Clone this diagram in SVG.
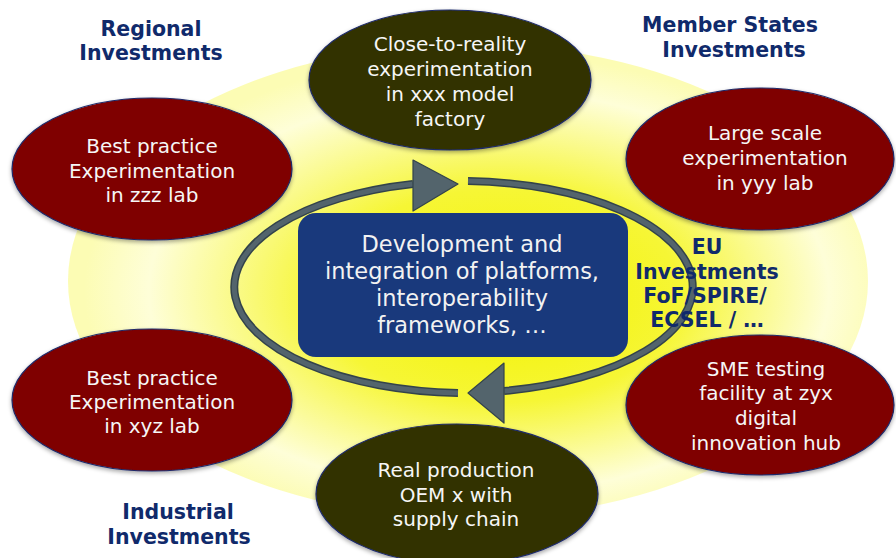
<svg xmlns="http://www.w3.org/2000/svg" width="896" height="558" viewBox="0 0 896 558">
  <defs>
    <radialGradient id="glow" cx="0.52" cy="0.52" r="0.5" fx="0.56" fy="0.54">
      <stop offset="0" stop-color="#f3f300"/>
      <stop offset="0.45" stop-color="#f6f635"/>
      <stop offset="0.65" stop-color="#fafa88"/>
      <stop offset="0.85" stop-color="#fefed8"/>
      <stop offset="1" stop-color="#fcfcb4"/>
    </radialGradient>
    <filter id="shadow" x="-10%" y="-10%" width="120%" height="130%">
      <feDropShadow dx="0" dy="2" stdDeviation="2" flood-color="#000" flood-opacity="0.35"/>
    </filter>
  </defs>
  <style>
    .red { fill: #7f0000; stroke: #1e2a6a; stroke-width: 1.2; filter: url(#shadow); }
    .olive { fill: #333300; stroke: #1e2a6a; stroke-width: 1.2; filter: url(#shadow); }
    .node-text { font-family: "DejaVu Sans", Verdana, sans-serif; font-size: 20px; fill: #f6f6f6; text-anchor: middle; }
    .box-text { font-family: "DejaVu Sans", Verdana, sans-serif; font-size: 22.5px; fill: #f2f2f2; text-anchor: middle; }
    .label { font-family: "DejaVu Sans", Verdana, sans-serif; font-weight: bold; font-size: 20.5px; fill: #102a6b; text-anchor: middle; }
    .loop-outer { fill: none; stroke: #33434b; stroke-width: 8; }
    .loop-inner { fill: none; stroke: #53646c; stroke-width: 5; }
    .head { fill: #53646c; stroke: #33434b; stroke-width: 1.2; stroke-linejoin: round; }
  </style>

  <!-- background glow -->
  <ellipse cx="468" cy="281" rx="400" ry="237" fill="url(#glow)"/>

  <!-- circular loop connectors -->
  <g id="connectors">
    <path class="loop-outer" d="M 458 393 A 233 106 0 0 1 413 184"/>
    <path class="loop-inner" d="M 458 393 A 233 106 0 0 1 413 184"/>
    <polygon class="head" points="413,160 458,184 413,211"/>
    <path class="loop-outer" d="M 468 181 A 233 106 0 0 1 504 391"/>
    <path class="loop-inner" d="M 468 181 A 233 106 0 0 1 504 391"/>
    <polygon class="head" points="504,363 468,393 504,423"/>
  </g>

  <!-- central platform box -->
  <g id="platforms">
    <rect x="298" y="213" width="330" height="144" rx="18" fill="#19397c"/>
    <text class="box-text" x="462" y="252">Development and</text>
    <text class="box-text" x="462" y="279">integration of platforms,</text>
    <text class="box-text" x="462" y="306">interoperability</text>
    <text class="box-text" x="462" y="333">frameworks, …</text>
  </g>

  <g id="model-factory">
    <ellipse class="olive" cx="450" cy="80" rx="141" ry="70"/>
    <text class="node-text" x="450" y="51">Close-to-reality</text>
    <text class="node-text" x="450" y="76">experimentation</text>
    <text class="node-text" x="450" y="101">in xxx model</text>
    <text class="node-text" x="450" y="126">factory</text>
  </g>

  <g id="zzz-lab">
    <ellipse class="red" cx="152" cy="169" rx="140" ry="71"/>
    <text class="node-text" x="152" y="153">Best practice</text>
    <text class="node-text" x="152" y="178">Experimentation</text>
    <text class="node-text" x="152" y="202">in zzz lab</text>
  </g>

  <g id="yyy-lab">
    <ellipse class="red" cx="760" cy="159" rx="134" ry="71"/>
    <text class="node-text" x="765" y="140">Large scale</text>
    <text class="node-text" x="765" y="165">experimentation</text>
    <text class="node-text" x="765" y="190">in yyy lab</text>
  </g>

  <g id="xyz-lab">
    <ellipse class="red" cx="152" cy="400" rx="140" ry="71"/>
    <text class="node-text" x="152" y="385">Best practice</text>
    <text class="node-text" x="152" y="409">Experimentation</text>
    <text class="node-text" x="152" y="433">in xyz lab</text>
  </g>

  <g id="sme-hub">
    <ellipse class="red" cx="760" cy="405" rx="134" ry="70"/>
    <text class="node-text" x="766" y="376">SME testing</text>
    <text class="node-text" x="766" y="400">facility at zyx</text>
    <text class="node-text" x="766" y="425">digital</text>
    <text class="node-text" x="766" y="450">innovation hub</text>
  </g>

  <g id="oem-production">
    <ellipse class="olive" cx="457" cy="494" rx="141" ry="70"/>
    <text class="node-text" x="456" y="477">Real production</text>
    <text class="node-text" x="456" y="502">OEM x with</text>
    <text class="node-text" x="456" y="526">supply chain</text>
  </g>

  <!-- investment labels -->
  <g id="regional">
    <text class="label" x="151" y="36">Regional</text>
    <text class="label" x="151" y="60">Investments</text>
  </g>
  <g id="member-states">
    <text class="label" x="730" y="32">Member States</text>
    <text class="label" x="734" y="57">Investments</text>
  </g>
  <g id="eu">
    <text class="label" x="707" y="254">EU</text>
    <text class="label" x="707" y="279">Investments</text>
    <text class="label" x="705" y="303">FoF/SPIRE/</text>
    <text class="label" x="707" y="327">ECSEL / …</text>
  </g>
  <g id="industrial">
    <text class="label" x="178" y="519">Industrial</text>
    <text class="label" x="179" y="544">Investments</text>
  </g>
</svg>
